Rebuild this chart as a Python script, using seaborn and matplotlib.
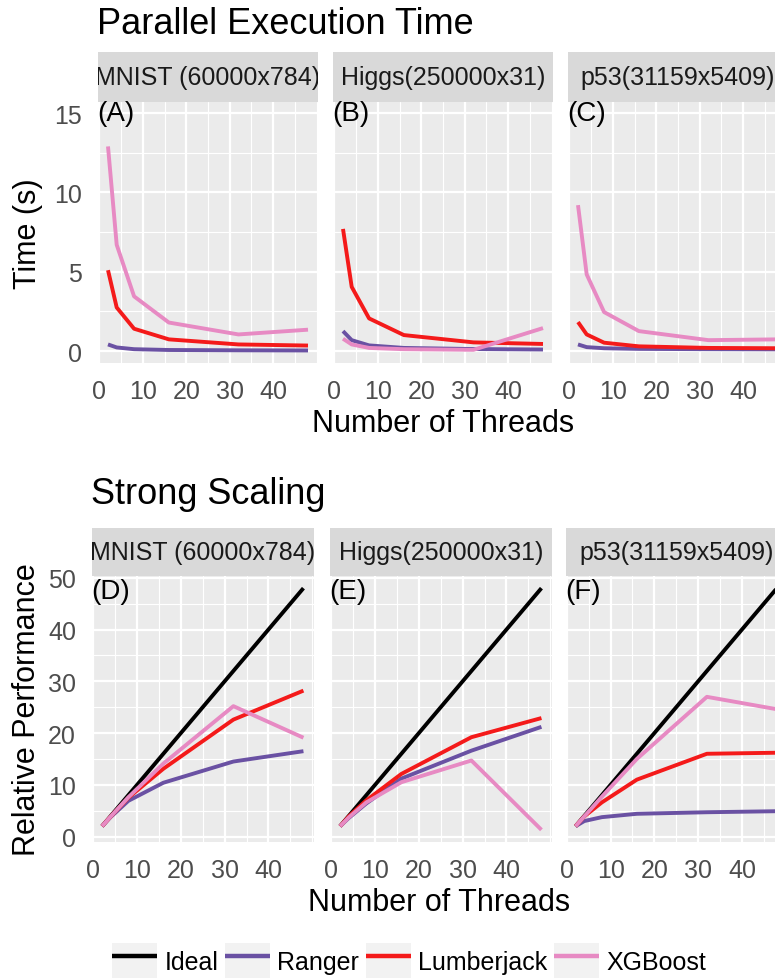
import numpy as np
import pandas as pd
import seaborn as sns
import matplotlib
matplotlib.use("Agg")
import matplotlib.pyplot as plt
from matplotlib.patches import Rectangle
from matplotlib.lines import Line2D
from matplotlib.legend_handler import HandlerTuple

# ---------------- data ----------------
threads = [2, 4, 8, 16, 32, 48]
datasets = ["MNIST (60000x784)", "Higgs(250000x31)", "p53(31159x5409)"]
methods = ["Ideal", "Ranger", "Lumberjack", "XGBoost"]
colors = ["#000000", "#6A51A3", "#F41A1A", "#E78AC3"]
top_tags = ["(A)", "(B)", "(C)"]
bot_tags = ["(D)", "(E)", "(F)"]

# Parallel execution time (s)
time_mnist_ranger = [0.42, 0.23, 0.12, 0.07, 0.05, 0.04]
time_mnist_lumberjack = [5.1, 2.75, 1.41, 0.74, 0.42, 0.35]
time_mnist_xgboost = [12.9, 6.7, 3.45, 1.8, 1.05, 1.35]
time_higgs_ranger = [1.26, 0.69, 0.36, 0.2, 0.13, 0.1]
time_higgs_lumberjack = [7.7, 4.05, 2.06, 1.01, 0.55, 0.45]
time_higgs_xgboost = [0.78, 0.42, 0.2, 0.12, 0.08, 1.45]
time_p53_ranger = [0.42, 0.25, 0.18, 0.14, 0.12, 0.11]
time_p53_lumberjack = [1.83, 1.05, 0.53, 0.3, 0.2, 0.18]
time_p53_xgboost = [9.2, 4.83, 2.46, 1.26, 0.69, 0.74]

# Strong scaling (relative performance)
ideal = [2, 4, 8, 16, 32, 48]
perf_mnist_ranger = [2, 3.8, 6.9, 10.4, 14.5, 16.5]
perf_mnist_lumberjack = [2, 3.9, 7.5, 13.1, 22.6, 28.2]
perf_mnist_xgboost = [2, 3.9, 7.6, 14.1, 25.2, 19.1]
perf_higgs_ranger = [2, 3.6, 6.4, 11.2, 16.6, 21.2]
perf_higgs_lumberjack = [2, 3.9, 7.0, 12.1, 19.2, 22.9]
perf_higgs_xgboost = [2, 3.7, 6.6, 10.5, 14.7, 1.3]
perf_p53_ranger = [2, 3.0, 3.75, 4.4, 4.7, 4.9]
perf_p53_lumberjack = [2, 3.9, 6.6, 11.0, 16.0, 16.2]
perf_p53_xgboost = [2, 3.9, 7.7, 15.0, 27.0, 24.6]

time_data = {
    datasets[0]: {"Ranger": time_mnist_ranger, "Lumberjack": time_mnist_lumberjack, "XGBoost": time_mnist_xgboost},
    datasets[1]: {"Ranger": time_higgs_ranger, "Lumberjack": time_higgs_lumberjack, "XGBoost": time_higgs_xgboost},
    datasets[2]: {"Ranger": time_p53_ranger, "Lumberjack": time_p53_lumberjack, "XGBoost": time_p53_xgboost},
}
perf_data = {
    datasets[0]: {"Ideal": ideal, "Ranger": perf_mnist_ranger, "Lumberjack": perf_mnist_lumberjack, "XGBoost": perf_mnist_xgboost},
    datasets[1]: {"Ideal": ideal, "Ranger": perf_higgs_ranger, "Lumberjack": perf_higgs_lumberjack, "XGBoost": perf_higgs_xgboost},
    datasets[2]: {"Ideal": ideal, "Ranger": perf_p53_ranger, "Lumberjack": perf_p53_lumberjack, "XGBoost": perf_p53_xgboost},
}

def long_df(d):
    rows = []
    for ds, m in d.items():
        for meth, vals in m.items():
            for t, v in zip(threads, vals):
                rows.append({"dataset": ds, "method": meth, "threads": t, "value": v})
    return pd.DataFrame(rows)

df_time = long_df(time_data)
df_perf = long_df(perf_data)

# ---------------- style ----------------
sns.set_theme(style="white")
plt.rcParams["font.family"] = ["Liberation Sans", "DejaVu Sans"]
plt.rcParams["text.color"] = "black"
palette = dict(zip(methods, colors))

W, H = 775, 979
fig = plt.figure(figsize=(W / 100, H / 100), dpi=100)

def rect(left, top, right, bottom):
    return [left / W, 1 - bottom / H, (right - left) / W, (bottom - top) / H]

PANEL_BG = "#EBEBEB"
STRIP_BG = "#D9D9D9"
TICK_C = "#4D4D4D"

def style_panel(ax, ylim, ymajor, yminor, show_ylabels):
    ax.set_facecolor(PANEL_BG)
    for s in ax.spines.values():
        s.set_visible(False)
    ax.set_xlim(-0.3, 50.3)
    ax.set_ylim(*ylim)
    ax.set_xticks([0, 10, 20, 30, 40])
    ax.set_xticks([5, 15, 25, 35, 45, 50], minor=True)
    ax.set_yticks(ymajor)
    ax.set_yticks(yminor, minor=True)
    ax.grid(which="major", color="white", linewidth=1.6)
    ax.grid(which="minor", color="white", linewidth=0.8)
    ax.set_axisbelow(True)
    ax.tick_params(which="major", length=5, width=1.4, color="#333333",
                   labelsize=18, labelcolor=TICK_C, pad=6.5)
    ax.tick_params(which="minor", length=0)
    ax.set_xticklabels(["0", "10", "20", "30", "40"])
    if show_ylabels:
        ax.set_yticklabels([str(v) for v in ymajor])
    else:
        ax.tick_params(axis="y", which="major", length=0, labelleft=False)
    ax.set_xlabel("")
    ax.set_ylabel("")

def add_strip(left, top, right, bottom, label):
    sax = fig.add_axes(rect(left, top, right, bottom))
    sax.set_facecolor(STRIP_BG)
    for s in sax.spines.values():
        s.set_visible(False)
    sax.set_xticks([])
    sax.set_yticks([])
    sax.text(0.5, 0.5, label, transform=sax.transAxes, ha="center", va="center",
             fontsize=18, color="#1A1A1A", clip_on=True)

# ---------------- top: Parallel Execution Time ----------------
top_lefts = [98, 333, 568]
top_w = 220
for i, ds in enumerate(datasets):
    l = top_lefts[i]
    add_strip(l, 53, l + top_w, 103, ds)
    ax = fig.add_axes(rect(l, 103, l + top_w, 364))
    sub = df_time[df_time["dataset"] == ds]
    sns.lineplot(data=sub, x="threads", y="value", hue="method",
                 hue_order=methods[1:], palette=palette, ax=ax, legend=False,
                 linewidth=2.8, solid_capstyle="butt")
    style_panel(ax, (-0.75, 15.7), [0, 5, 10, 15], [2.5, 7.5, 12.5], i == 0)
    ax.text(-0.4, 15, top_tags[i], ha="left", va="center", fontsize=20, color="black")

fig.text(97 / W, 1 - 34 / H, "Parallel Execution Time", fontsize=26, ha="left",
         va="baseline", color="black")
fig.text(443 / W, 1 - 432 / H, "Number of Threads", fontsize=22, ha="center",
         va="baseline", color="black")
fig.text(36 / W, 1 - 233.5 / H, "Time (s)", fontsize=22, rotation=90, color="black",
         ha="center", va="baseline", rotation_mode="anchor")

# ---------------- bottom: Strong Scaling ----------------
bot_lefts = [92, 330, 565.5]
bot_w = 221.5
for i, ds in enumerate(datasets):
    l = bot_lefts[i]
    add_strip(l, 529, l + bot_w, 577, ds)
    ax = fig.add_axes(rect(l, 577, l + bot_w, 843))
    sub = df_perf[df_perf["dataset"] == ds]
    sns.lineplot(data=sub, x="threads", y="value", hue="method",
                 hue_order=methods, palette=palette, ax=ax, legend=False,
                 linewidth=2.8, solid_capstyle="butt")
    style_panel(ax, (-1.05, 50.35), [0, 10, 20, 30, 40, 50],
                [5, 15, 25, 35, 45], i == 0)
    ax.text(-0.4, 47.5, bot_tags[i], ha="left", va="center", fontsize=20, color="black")

fig.text(91 / W, 1 - 504 / H, "Strong Scaling", fontsize=26, ha="left",
         va="baseline", color="black")
fig.text(439 / W, 1 - 911 / H, "Number of Threads", fontsize=22, ha="center",
         va="baseline", color="black")
fig.text(35 / W, 1 - 710 / H, "Relative Performance", fontsize=22, rotation=90,
         color="black", ha="center", va="baseline", rotation_mode="anchor")

# ---------------- legend ----------------
handles = [(Rectangle((0, 0), 1, 1, facecolor="#F2F2F2", edgecolor="none"),
            Line2D([], [], color=c, linewidth=3.2, solid_capstyle="butt")) for c in colors]
leg = fig.legend(handles, methods, loc="center", bbox_to_anchor=(409 / W, 1 - 962 / H),
                 ncol=4, frameon=False, fontsize=18,
                 handler_map={tuple: HandlerTuple(ndivide=1, pad=0)},
                 handlelength=1.8, handleheight=1.8, handletextpad=0.3,
                 columnspacing=0.25, borderpad=0, borderaxespad=0)
for t in leg.get_texts():
    t.set_color("black")

fig.savefig("out.png", dpi=100)
